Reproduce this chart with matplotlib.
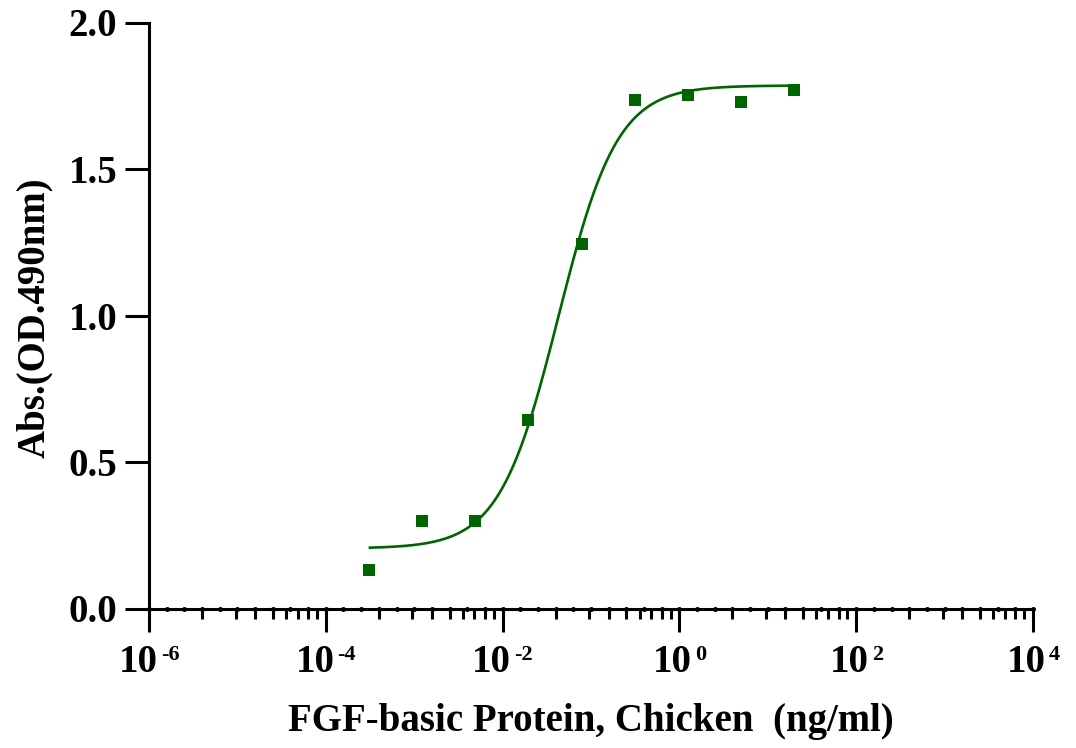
import numpy as np
import matplotlib
matplotlib.use('Agg')
import matplotlib.pyplot as plt
from matplotlib.transforms import offset_copy
from matplotlib.ticker import NullLocator

# ---- data ----
conc = [0.000305, 0.00122, 0.00488, 0.0195, 0.0781, 0.3125, 1.25, 5.0, 20.0]
absorb = [0.130, 0.300, 0.297, 0.645, 1.245, 1.736, 1.753, 1.729, 1.770]
# 4PL fit parameters
fit_bottom = 0.205
fit_top = 1.785
fit_ec50 = 0.0427
fit_hill = 1.3
xmajor_exp = [-6, -4, -2, 0, 2, 4]
yticks = [0.0, 0.5, 1.0, 1.5, 2.0]
ytick_labels = ['0.0', '0.5', '1.0', '1.5', '2.0']
xlabel = 'FGF-basic Protein, Chicken  (ng/ml)'
ylabel = 'Abs.(OD.490nm)'

green = '#006400'
FS = 28
SUPFS = 16

plt.rcParams['font.family'] = ['Liberation Serif', 'DejaVu Serif']
plt.rcParams['font.weight'] = 'bold'

W, H = 1076, 748
fig = plt.figure(figsize=(W / 100, H / 100), dpi=100)
x0, x1, y0, y1 = 149, 1033, 608.5, 22.5
ax = fig.add_axes([x0 / W, 1 - y0 / H, (x1 - x0) / W, (y0 - y1) / H])
ax.set_xscale('log')
ax.set_xlim(1e-6, 1e4)
ax.set_ylim(0, 2)
for s in ['top', 'right']:
    ax.spines[s].set_visible(False)
for s in ['left', 'bottom']:
    ax.spines[s].set_linewidth(2.2)
    ax.spines[s].set_capstyle('projecting')

# fitted curve
xf = np.logspace(np.log10(conc[0]), np.log10(conc[-1]), 400)
yf = fit_bottom + (fit_top - fit_bottom) / (1 + (fit_ec50 / xf) ** fit_hill)
ax.plot(xf, yf, color=green, lw=1.9, zorder=3, solid_capstyle='butt')
ax.plot(conc, absorb, 's', color=green, ms=9, mew=0, zorder=4)

# dotted decoration along the x axis
dots = 10.0 ** np.arange(-6, 4.001, 0.2)
ax.plot(dots, np.zeros_like(dots), 'o', color='black', ms=3.6, mew=0,
        clip_on=False, zorder=5)

# ticks
majors = [10.0 ** e for e in xmajor_exp]
ax.set_xticks(majors)
ax.set_xticklabels([''] * len(majors))
minor_off = [0.60, 0.98, 1.2, 1.4, 1.55, 1.68, 1.8, 1.9]
minors = [10.0 ** (e + o) for e in xmajor_exp[:-1] for o in minor_off]
ax.set_xticks(minors, minor=True)
ax.xaxis.set_minor_formatter(plt.NullFormatter())
ax.tick_params(axis='x', which='major', length=16.5, width=2.2, direction='out')
ax.tick_params(axis='x', which='minor', length=7.2, width=2.2, direction='out')
ax.set_yticks(yticks)
ax.set_yticklabels(ytick_labels)
ax.yaxis.set_minor_locator(NullLocator())
ax.tick_params(axis='y', which='major', length=17, width=2.2, labelsize=FS, pad=5.8)

# manual power-of-ten labels
fig.canvas.draw()
renderer = fig.canvas.get_renderer()


def text_width(s, size):
    t = fig.text(0, 0, s, fontsize=size, fontweight='bold')
    w = t.get_window_extent(renderer).width
    t.remove()
    return w


w10 = text_width('10', FS)
gap = 3
ybase = (y0 - 672) / (y0 - y1)
ysup = (y0 - 660) / (y0 - y1)
tr = ax.get_xaxis_transform()
for e in xmajor_exp:
    sup = str(e)
    wsup = text_width(sup, SUPFS)
    tot = w10 + gap + wsup
    ax.text(10.0 ** e, ybase, '10', fontsize=FS, fontweight='bold', ha='right', va='baseline',
            transform=offset_copy(tr, fig=fig, x=-tot / 2 + w10, y=0, units='dots'),
            clip_on=False)
    ax.text(10.0 ** e, ysup, sup, fontsize=SUPFS, fontweight='bold', ha='left', va='baseline',
            transform=offset_copy(tr, fig=fig, x=-tot / 2 + w10 + gap, y=0, units='dots'),
            clip_on=False)

ax.set_xlabel(xlabel, fontsize=FS, fontweight='bold')
ax.xaxis.set_label_coords(0.5, (y0 - 731.5) / (y0 - y1))
ax.xaxis.label.set_verticalalignment('baseline')
ax.set_ylabel(ylabel, fontsize=FS, fontweight='bold')
ax.yaxis.set_label_coords((44 - x0) / (x1 - x0), (y0 - 317.5) / (y0 - y1))
ax.yaxis.label.set_verticalalignment('baseline')

fig.savefig('out.png', dpi=100)
